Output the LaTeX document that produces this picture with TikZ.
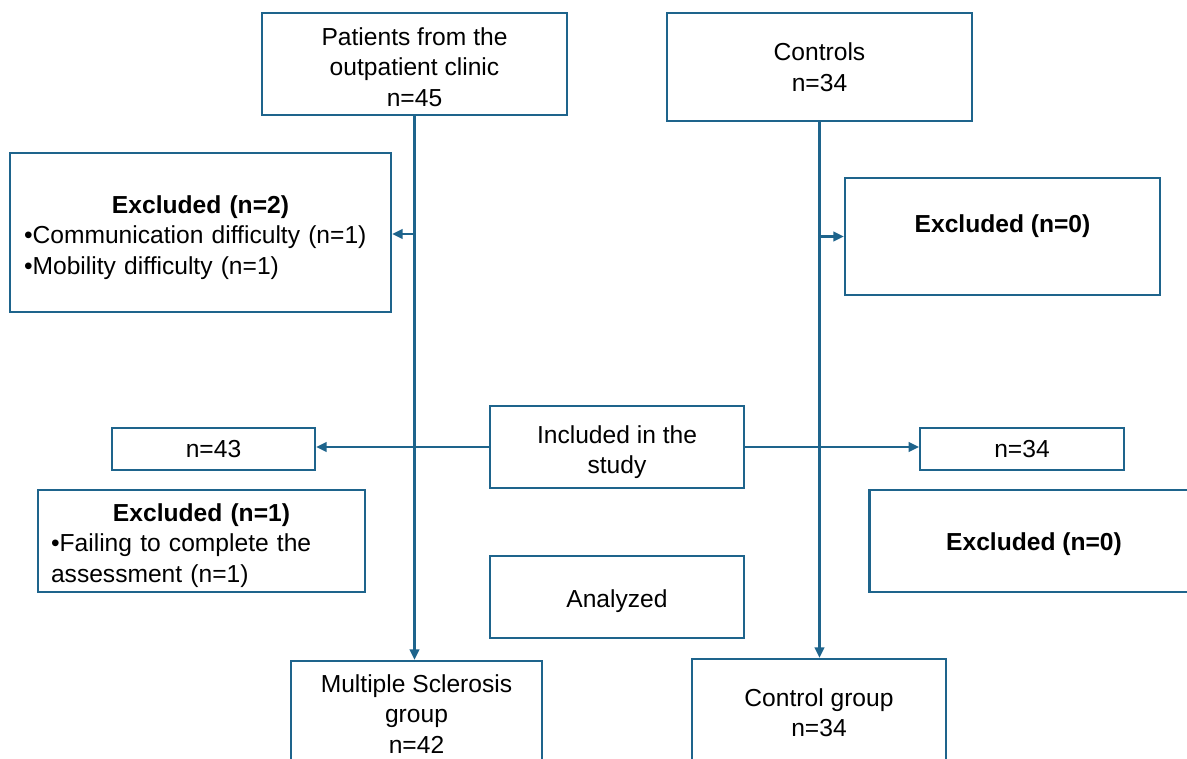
\documentclass[tikz,border=0pt]{standalone}
\usepackage{fontspec}
\setmainfont{Liberation Sans}
\usetikzlibrary{arrows.meta}
\definecolor{flowblue}{RGB}{30,100,140}

\begin{document}
\begin{tikzpicture}[
		x=0.02cm, y=-0.02cm,
		every node/.style={font=\fontsize{14}{17.4}\selectfont},
		box/.style={draw=flowblue, line width=1.3pt, align=center, inner sep=0pt},
		listbox/.style={draw=flowblue, line width=1.3pt, inner ysep=0pt},
		arrowline/.style={draw=flowblue, line width=1.25pt, -{Triangle[length=6pt,width=5.5pt]}}
	]
	\useasboundingbox (0,0) rectangle (1187,759);
	\node[box, minimum width=6.1cm, minimum height=2.04cm] (patients) at (414.5,64) {\rule{0pt}{13.6pt}Patients from the\\outpatient clinic\\n=45};
	\node[box, minimum width=6.1cm, minimum height=2.16cm] (controls) at (819.5,67) {Controls\\n=34};
	\node[listbox, text width=7.06cm, inner xsep=0.28cm, minimum height=3.18cm] (exclpat) at (200.5,232.5)
		{\centering\rule{0pt}{15.9pt}\textbf{Excluded (n=2)}\par\raggedright •Communication difficulty (n=1)\\•Mobility difficulty (n=1)};
	\node[box, minimum width=6.3cm, minimum height=2.34cm] (exclctl) at (1002.5,236.5) {\textbf{Excluded (n=0)}\\[-8pt]\strut};
	\node[box, minimum width=5.08cm, minimum height=1.64cm] (included) at (617,447) {\rule{0pt}{15.9pt}Included in the\\study};
	\node[box, minimum width=4.06cm, minimum height=0.84cm] (npat) at (213.5,449) {n=43};
	\node[box, minimum width=4.07cm, minimum height=0.83cm] (nctl) at (1022,449) {n=34};
	\node[listbox, text width=6.02cm, inner xsep=0.26cm, minimum height=2.04cm] (droppat) at (201.5,541)
		{\centering\rule{0pt}{15.3pt}\textbf{Excluded (n=1)}\par\raggedright •Failing to complete the\\assessment (n=1)};
	\node[box, minimum width=6.58cm, minimum height=2.03cm] (dropctl) at (1034,541) {\rule{0pt}{13.6pt}\textbf{Excluded (n=0)}};
	\node[box, minimum width=5.08cm, minimum height=1.64cm] (analyzed) at (617,597) {\rule{0pt}{14.8pt}Analyzed};
	\node[box, minimum width=5.02cm, minimum height=2.12cm] (msgroup) at (416.5,714) {Multiple Sclerosis\\group\\n=42};
	\node[box, minimum width=5.07cm, minimum height=2.14cm] (ctlgroup) at (819,712.5) {Control group\\n=34};
	\coordinate (splitpat) at (patients.south |- 0,234);
	\coordinate (splitctl) at (controls.south |- exclctl.west);
	\draw[arrowline] (patients.south) -- (patients.south |- msgroup.north);
	\draw[arrowline] (controls.south) -- (controls.south |- ctlgroup.north);
	\draw[arrowline] (splitpat) -- (splitpat -| exclpat.east);
	\draw[arrowline] (splitctl) -- (exclctl.west);
	\draw[arrowline] (included.west) -- (included.west -| npat.east);
	\draw[arrowline] (included.east) -- (included.east -| nctl.west);
\end{tikzpicture}
\end{document}
